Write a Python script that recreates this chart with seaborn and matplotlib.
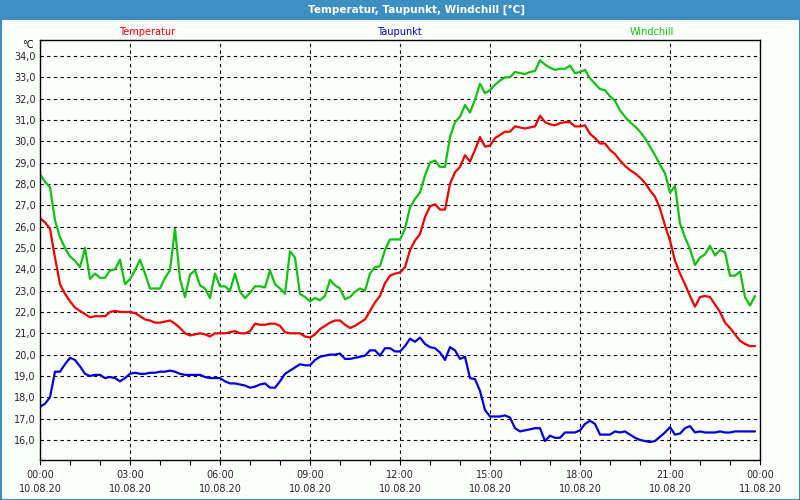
import numpy as np
import pandas as pd
import matplotlib
matplotlib.use("Agg")
import matplotlib.pyplot as plt
import matplotlib.dates as mdates
from matplotlib.patches import Rectangle
from matplotlib.ticker import FuncFormatter, MultipleLocator
import seaborn as sns

# -----------------------------
# Data (10 minute readings, 10.08.20 00:00 - 23:50)
# -----------------------------
start = pd.Timestamp("2020-08-10 00:00")
times = pd.date_range(start, periods=144, freq="10min")

temperatur = [
    26.4, 26.2, 25.9, 24.55, 23.3, 22.85, 22.5, 22.2, 22.05, 21.9, 21.75, 21.8,
    21.8, 21.8, 22.0, 22.05, 22.0, 22.0, 22.0, 21.95, 21.8, 21.65, 21.6, 21.5,
    21.5, 21.55, 21.6, 21.45, 21.25, 21.0, 20.9, 20.95, 21.0, 20.95, 20.85, 21.0,
    21.0, 21.0, 21.05, 21.1, 21.0, 21.0, 21.1, 21.45, 21.4, 21.4, 21.45, 21.45,
    21.35, 21.05, 21.0, 21.0, 21.0, 20.85, 20.8, 20.95, 21.2, 21.35, 21.5, 21.6,
    21.6, 21.4, 21.25, 21.35, 21.5, 21.65, 22.05, 22.45, 22.75, 23.35, 23.7, 23.8,
    23.85, 24.1, 24.9, 25.35, 25.65, 26.45, 26.95, 27.05, 26.8, 26.8, 28.0, 28.55,
    28.8, 29.35, 29.05, 29.6, 30.2, 29.75, 29.8, 30.15, 30.3, 30.45, 30.45, 30.7,
    30.65, 30.6, 30.65, 30.7, 31.2, 30.9, 30.8, 30.75, 30.85, 30.9, 30.9, 30.7,
    30.7, 30.75, 30.35, 30.15, 29.9, 29.9, 29.6, 29.4, 29.1, 28.85, 28.65, 28.5,
    28.3, 28.05, 27.7, 27.4, 26.85, 26.05, 25.35, 24.4, 23.8, 23.3, 22.75, 22.25,
    22.7, 22.75, 22.7, 22.35, 22.0, 21.5, 21.25, 20.95, 20.65, 20.5, 20.4, 20.4,
]

taupunkt = [
    17.55, 17.7, 18.0, 19.2, 19.2, 19.55, 19.85, 19.75, 19.45, 19.1, 19.0, 19.05,
    19.05, 18.9, 18.95, 18.9, 18.75, 18.9, 19.1, 19.15, 19.1, 19.1, 19.15, 19.15,
    19.2, 19.2, 19.25, 19.2, 19.1, 19.05, 19.05, 19.05, 19.05, 18.95, 18.9, 18.9,
    18.9, 18.75, 18.65, 18.65, 18.6, 18.55, 18.45, 18.5, 18.6, 18.65, 18.45, 18.45,
    18.75, 19.1, 19.25, 19.4, 19.55, 19.5, 19.5, 19.75, 19.9, 19.95, 20.0, 20.0,
    20.05, 19.8, 19.8, 19.85, 19.9, 19.95, 20.2, 20.2, 19.95, 20.3, 20.3, 20.15,
    20.15, 20.4, 20.75, 20.6, 20.8, 20.5, 20.35, 20.3, 20.1, 19.75, 20.35, 20.2,
    19.8, 19.9, 18.9, 18.85, 18.3, 17.4, 17.1, 17.1, 17.1, 17.15, 17.05, 16.55,
    16.4, 16.45, 16.5, 16.55, 16.55, 15.95, 16.2, 16.1, 16.1, 16.35, 16.35, 16.35,
    16.45, 16.75, 16.9, 16.75, 16.25, 16.25, 16.25, 16.4, 16.35, 16.4, 16.25, 16.1,
    16.0, 15.95, 15.9, 15.95, 16.15, 16.35, 16.6, 16.25, 16.3, 16.55, 16.65, 16.35,
    16.4, 16.35, 16.35, 16.35, 16.4, 16.35, 16.35, 16.4, 16.4, 16.4, 16.4, 16.4,
]

windchill = [
    28.45, 28.1, 27.85, 26.3, 25.5, 25.0, 24.6, 24.4, 24.1, 25.0, 23.55, 23.8,
    23.6, 23.6, 23.95, 24.0, 24.45, 23.3, 23.55, 23.95, 24.45, 23.8, 23.1, 23.1,
    23.1, 23.6, 23.95, 25.9, 23.55, 22.7, 23.75, 23.95, 23.25, 23.1, 22.65, 23.8,
    23.2, 23.2, 23.0, 23.8, 22.95, 22.65, 22.9, 23.2, 23.2, 23.15, 23.95, 23.3,
    23.1, 22.85, 24.85, 24.55, 22.85, 22.7, 22.5, 22.65, 22.55, 22.75, 23.5, 23.25,
    23.1, 22.6, 22.7, 22.95, 23.1, 23.0, 23.8, 24.1, 24.15, 24.9, 25.4, 25.4,
    25.4, 25.9, 26.9, 27.3, 27.6, 28.4, 29.0, 29.1, 28.8, 28.8, 30.2, 30.9,
    31.15, 31.7, 31.35, 31.95, 32.7, 32.25, 32.4, 32.65, 32.85, 33.0, 33.0, 33.25,
    33.2, 33.15, 33.25, 33.3, 33.8, 33.6, 33.45, 33.35, 33.4, 33.4, 33.55, 33.2,
    33.25, 33.35, 32.95, 32.7, 32.45, 32.4, 32.1, 31.9, 31.45, 31.15, 30.9, 30.7,
    30.45, 30.15, 29.75, 29.35, 28.9, 28.5, 27.6, 27.9, 26.15, 25.5, 24.95, 24.2,
    24.55, 24.7, 25.1, 24.65, 24.9, 24.8, 23.7, 23.7, 23.9, 22.7, 22.3, 22.75,
]

series_names = ["Temperatur", "Taupunkt", "Windchill"]
series_colors = ["#ee0000", "#0000dd", "#11c011"]
label_x = [147, 399, 652]  # label centres in pixels

df = pd.DataFrame({"Zeit": times, "Temperatur": temperatur,
                   "Taupunkt": taupunkt, "Windchill": windchill})
long_df = df.melt(id_vars="Zeit", var_name="Reihe", value_name="Wert")

# -----------------------------
# Figure
# -----------------------------
sns.set_style("white")
plt.rcParams["font.family"] = ["DejaVu Sans"]

W, H = 800, 500
fig = plt.figure(figsize=(8, 5), dpi=100, facecolor="#fcfefc")
ax = fig.add_axes([40 / W, 1 - 460 / H, 720 / W, 420 / H])
ax.set_facecolor("#fcfefc")

sns.lineplot(data=long_df, x="Zeit", y="Wert", hue="Reihe",
             hue_order=series_names, palette=series_colors,
             linewidth=1.6, legend=False, ax=ax)

ax.set_xlim(start, start + pd.Timedelta(hours=24))
ax.set_ylim(15.06, 34.75)

ax.xaxis.set_major_locator(mdates.HourLocator(byhour=range(0, 24, 3)))
ax.xaxis.set_minor_locator(mdates.HourLocator())
ax.xaxis.set_major_formatter(mdates.DateFormatter("%H:%M\n%d.%m.%y"))
ax.yaxis.set_major_locator(MultipleLocator(1))
ax.yaxis.set_major_formatter(FuncFormatter(lambda v, p: f"{v:.1f}".replace(".", ",")))

ax.tick_params(axis="x", which="both", direction="out", length=3.5, width=0.8,
               color="black", labelsize=7, pad=4, bottom=True)
ax.tick_params(axis="y", length=0, labelsize=7, pad=3)
for lbl in ax.get_xticklabels():
    lbl.set_linespacing(1.5)

ax.grid(True, which="major", color="black", linestyle=(0, (3, 3)), linewidth=0.8)
ax.set_axisbelow(True)
for sp in ax.spines.values():
    sp.set_color("black")
    sp.set_linewidth(1.0)

ax.set_xlabel("")
ax.set_ylabel("")

# title bar and frame
fig.patches.append(Rectangle((0, 1 - 20 / H), 1, 20 / H, transform=fig.transFigure,
                             facecolor="#3d8fc3", edgecolor="none", zorder=0))
fig.patches.append(Rectangle((0.5 / W, 0.5 / H), 1 - 1 / W, 1 - 1 / H,
                             transform=fig.transFigure, facecolor="none",
                             edgecolor="#3d8fc3", linewidth=1.5, zorder=5))
fig.text(417 / W, 1 - 10 / H, "Temperatur, Taupunkt, Windchill [°C]",
         color="white", fontsize=7.5, fontweight="bold", ha="center", va="center")

for name, color, xp in zip(series_names, series_colors, label_x):
    fig.text(xp / W, 1 - 32 / H, name, color=color, fontsize=7,
             ha="center", va="center")
fig.text(34 / W, 1 - 45 / H, "°C", color="black", fontsize=7, ha="right", va="center")

plt.savefig("out.png", dpi=100, facecolor=fig.get_facecolor())
plt.close()
